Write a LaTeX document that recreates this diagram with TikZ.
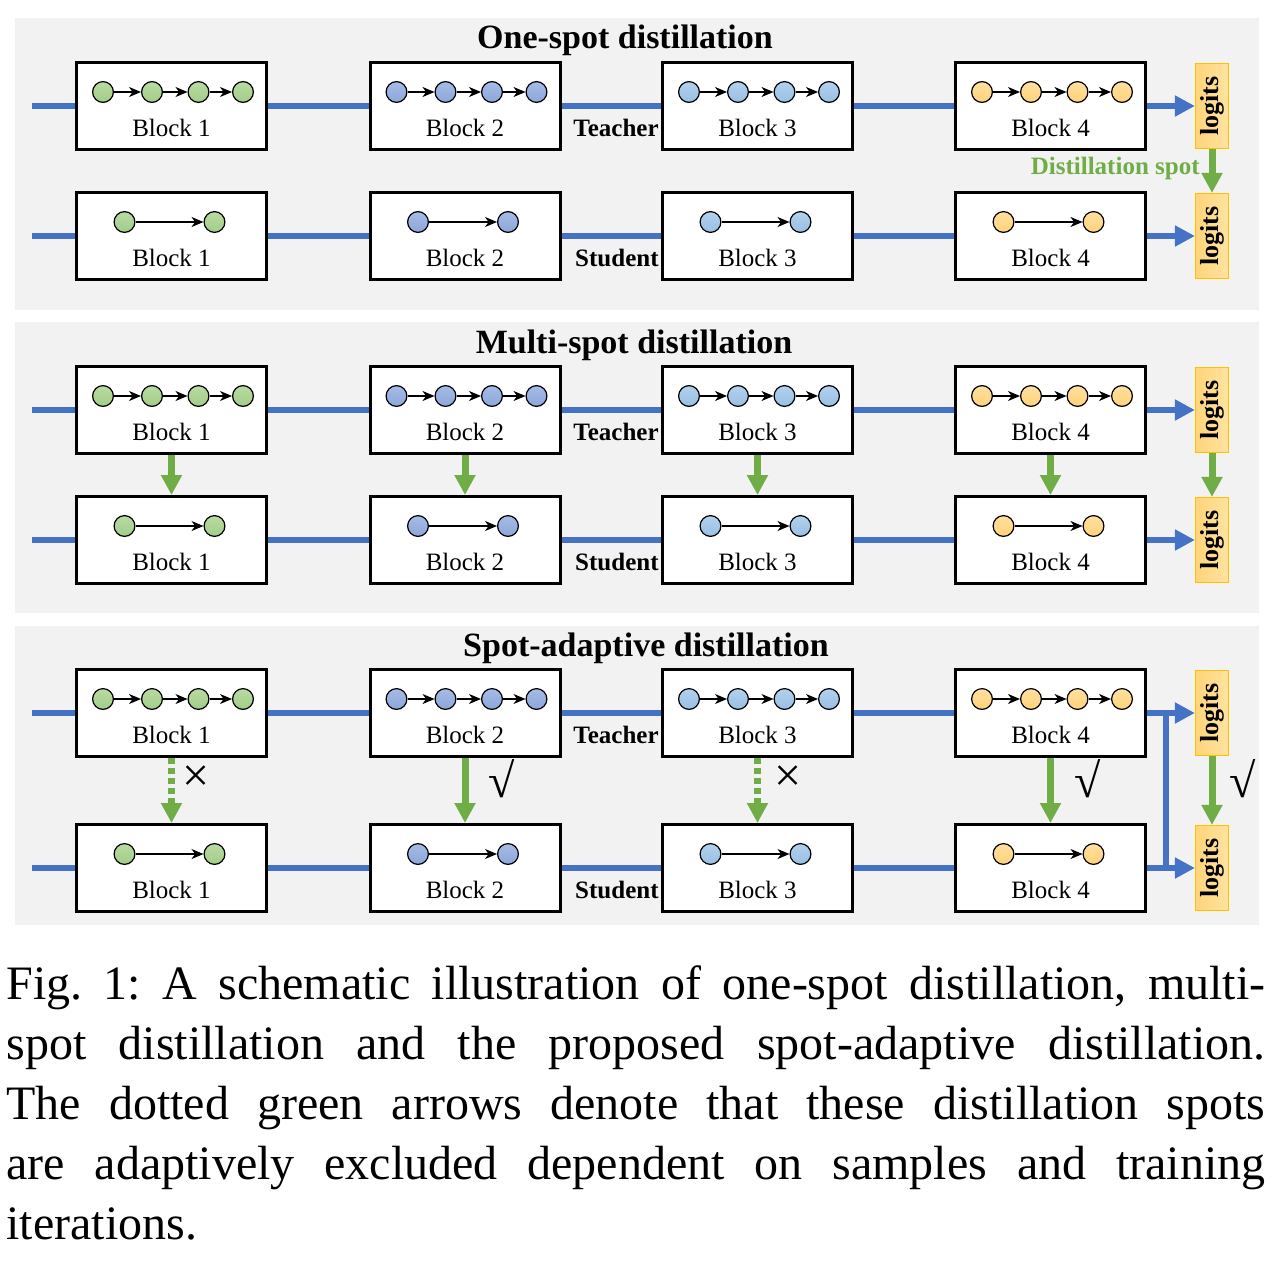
\documentclass[tikz,border=0pt]{standalone}
\usepackage{fontspec}
\setmainfont{Liberation Serif}
\usepackage{tikz}
\usetikzlibrary{positioning,calc,arrows.meta}
\definecolor{flowblue}{HTML}{4472C4}
\definecolor{spotgreen}{HTML}{70AD47}
\definecolor{panelgray}{HTML}{F2F2F2}
\definecolor{logittop}{HTML}{FFE39F}
\definecolor{logitbot}{HTML}{FFD47A}
\definecolor{logitedge}{HTML}{FFC000}
% unit colours per block (top / bottom of the gradient)
\definecolor{u1top}{HTML}{B9DBA3}
\definecolor{u1bot}{HTML}{A2CD86}
\definecolor{u2top}{HTML}{A6BCE6}
\definecolor{u2bot}{HTML}{8CA6DA}
\definecolor{u3top}{HTML}{B3D1EE}
\definecolor{u3bot}{HTML}{98BFE4}
\definecolor{u4top}{HTML}{FFE0A0}
\definecolor{u4bot}{HTML}{FFD27A}

\begin{document}
\begin{tikzpicture}[x=0.5pt,y=-0.5pt,
  blockBox/.style ={rectangle, draw=black, fill=white, line width=1.5pt,
                    minimum width=95pt, minimum height=43.5pt, inner sep=0pt},
  blockText/.style={font=\fontsize{12.5}{14}\selectfont, inner sep=0pt},
  unit/.style     ={circle, draw=black, line width=0.6pt, inner sep=0pt, minimum size=10.4pt,
                    top color=u#1top, bottom color=u#1bot},
  link/.style     ={-{Stealth[length=6pt,width=5pt,inset=1.8pt]}, line width=0.6pt},
  flow/.style     ={draw=flowblue, line width=3.2pt},
  flowArr/.style  ={flow, -{Triangle[length=10pt,width=10pt]}},
  spot/.style     ={draw=spotgreen, line width=3.5pt, -{Triangle[length=10pt,width=10pt]}},
  spotOff/.style  ={spot, dash pattern=on 3pt off 2pt},
  logitBox/.style ={rectangle, draw=logitedge, line width=0.6pt, rotate=90,
                    left color=logitbot, right color=logittop,
                    minimum width=42.5pt, minimum height=16.5pt, inner sep=0pt,
                    font=\fontsize{13}{14}\selectfont\bfseries},
  titleText/.style={font=\fontsize{17}{20}\selectfont\bfseries, inner sep=0pt},
  roleText/.style ={font=\fontsize{12.5}{14}\selectfont\bfseries, inner sep=0pt, anchor=east},
  spotText/.style ={font=\fontsize{12.5}{14}\selectfont\bfseries, text=spotgreen, inner sep=0pt, anchor=east},
  markText/.style ={font=\fontsize{24}{26}\selectfont, inner sep=0pt},
  capText/.style  ={font=\fontsize{24}{30}\selectfont, inner sep=0pt, anchor=north west,
                    text width=629.5pt, align=justify},
]
\useasboundingbox (0,0) rectangle (1275,1264);
% grey panels
\fill[panelgray] (15,18) rectangle (1259,310);
\fill[panelgray] (15,322) rectangle (1259,613);
\fill[panelgray] (15,626) rectangle (1259,925);
% one panel per row pair: teacher row y, student row y, title position
\foreach \p/\ty/\sy/\tx/\tyy/\title in {%
  1/106/236/625/40/One-spot distillation,
  2/410/540/634/345/Multi-spot distillation,
  3/713/868/646/648/Spot-adaptive distillation%
} {
  \node[titleText] (ttl\p) at (\tx,\tyy) {\title};
  \foreach \b/\bx in {1/171.5, 2/465, 3/757.5, 4/1050.5} {
    \node[blockBox] (t\p\b) at (\bx,\ty) {};
    \node[blockBox] (s\p\b) at (\bx,\sy) {};
    \node[blockText] (tl\p\b) at ($(t\p\b)+(0,22)$) {Block \b};
    \node[blockText] (sl\p\b) at ($(s\p\b)+(0,22)$) {Block \b};
    % teacher block: four units
    \foreach \u/\ux in {1/-68.5, 2/-19.5, 3/27, 4/71.5}
      \node[unit=\b] (tu\p\b\u) at ($(t\p\b)+(\ux,-14)$) {};
    \draw[link] (tu\p\b1) -- (tu\p\b2);
    \draw[link] (tu\p\b2) -- (tu\p\b3);
    \draw[link] (tu\p\b3) -- (tu\p\b4);
    % student block: two units
    \node[unit=\b] (su\p\b1) at ($(s\p\b)+(-47,-14)$) {};
    \node[unit=\b] (su\p\b2) at ($(s\p\b)+(43,-14)$) {};
    \draw[link] (su\p\b1) -- (su\p\b2);
  }
  \node[logitBox] (lt\p) at (1212,\ty) {logits};
  \node[logitBox] (ls\p) at (1212,\sy) {logits};
  \node[roleText] (tr\p) at (659,\ty+22) {Teacher};
  \node[roleText] (sr\p) at (659,\sy+22) {Student};
  \coordinate (tin\p) at (32,\ty);
  \coordinate (sin\p) at (32,\sy);
  \draw[flow] (tin\p) -- (t\p1.west) (t\p1.east) -- (t\p2.west)
              (t\p2.east) -- (t\p3.west) (t\p3.east) -- (t\p4.west);
  \draw[flow] (sin\p) -- (s\p1.west) (s\p1.east) -- (s\p2.west)
              (s\p2.east) -- (s\p3.west) (s\p3.east) -- (s\p4.west);
  \draw[flowArr] (t\p4.east) -- (lt\p);
  \draw[flowArr] (s\p4.east) -- (ls\p);
  \draw[spot] (lt\p) -- (ls\p);
}
% one-spot: only the logits
\node[spotText] (dsp) at (1200,168) {Distillation spot};
% multi-spot: every block
\foreach \b in {1,2,3,4}
  \draw[spot] (t2\b) -- (s2\b);
% spot-adaptive: some spots switched off
\foreach \b/\kind/\mk/\mx in {1/spotOff/×/25, 2/spot/√/37, 3/spotOff/×/31, 4/spot/√/37} {
  \draw[\kind] (t3\b) -- (s3\b);
  \node[markText] (mk\b) at ($(t3\b.south)+(\mx,21)$) {\mk};
}
\node[markText] (mkl) at (1243,779) {√};
\coordinate (tap) at (1166,713);
\draw[flow] (tap) -- (tap |- s34.east);
% caption
\node[capText] (cap) at (6,965) {\frenchspacing\tolerance=10000\hyphenpenalty=10000
  Fig.~1: A schematic illustration of one-spot distillation, multi-\linebreak
  spot distillation and the proposed spot-adaptive distillation.\linebreak
  The dotted green arrows denote that these distillation spots\linebreak
  are adaptively excluded dependent on samples and training\linebreak
  iterations.};
\end{tikzpicture}
\end{document}
